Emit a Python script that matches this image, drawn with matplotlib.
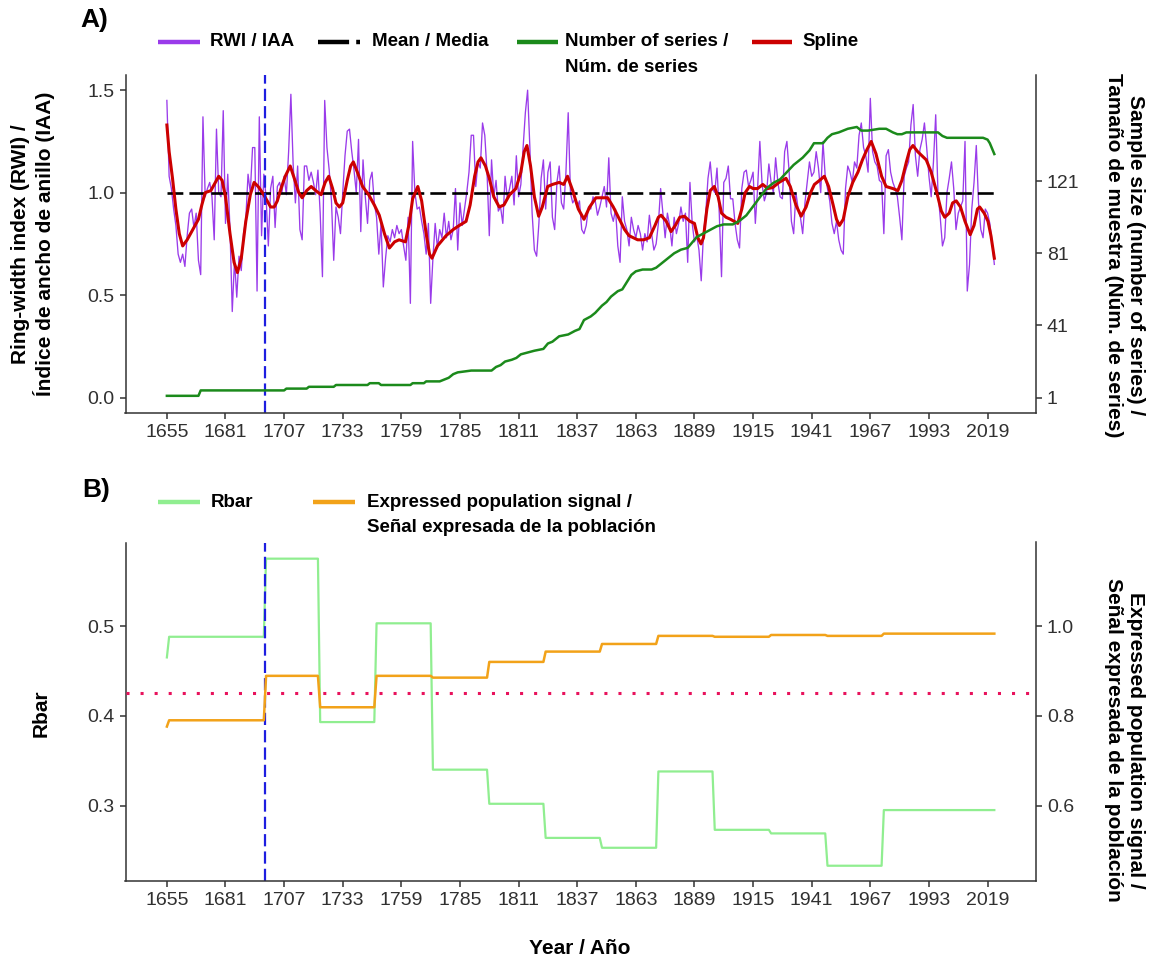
import matplotlib
matplotlib.use("Agg")
import matplotlib.pyplot as plt
from matplotlib.lines import Line2D

plt.rcParams['font.family'] = ['Liberation Sans', 'DejaVu Sans']

# ─── DATOS PANEL A ────────────────────────────────────────────
anio_inicio = 1655
rwi = [
    1.45, 1.08, 1.02, 0.92, 0.84, 0.70, 0.66, 0.70, 0.64, 0.79,
    0.90, 0.92, 0.83, 0.90, 0.67, 0.60, 1.37, 0.98, 1.02, 1.05,
    0.98, 0.77, 1.31, 1.00, 0.98, 1.40, 0.85, 1.09, 0.82, 0.42,
    0.67, 0.49, 0.69, 0.62, 0.80, 0.87, 1.09, 1.00, 1.22, 1.22,
    0.52, 1.37, 0.79, 1.09, 0.98, 0.74, 1.02, 1.08, 0.83, 1.03,
    1.05, 1.00, 1.08, 0.99, 1.20, 1.48, 1.14, 0.95, 1.13, 0.82,
    0.77, 1.13, 1.13, 1.06, 1.10, 1.05, 0.99, 1.11, 0.90, 0.59,
    1.45, 1.22, 1.11, 0.96, 0.67, 0.93, 0.88, 0.80, 1.00, 1.18,
    1.30, 1.31, 1.20, 1.11, 1.00, 1.26, 0.81, 1.16, 0.98, 0.85,
    1.06, 1.10, 0.95, 0.88, 0.70, 0.85, 0.54, 0.68, 0.79, 0.76,
    0.82, 0.78, 0.84, 0.80, 0.82, 0.74, 0.67, 0.88, 0.46, 1.25,
    1.00, 0.92, 0.93, 0.86, 0.80, 0.70, 0.85, 0.46, 0.68, 0.85,
    0.73, 0.82, 0.78, 0.90, 0.78, 0.86, 0.77, 0.82, 1.02, 0.72,
    0.95, 0.84, 0.92, 1.00, 1.10, 1.28, 1.28, 1.03, 1.15, 1.12,
    1.34, 1.28, 1.10, 0.79, 1.16, 0.98, 1.06, 0.91, 0.93, 0.85,
    1.08, 0.97, 1.02, 1.08, 0.94, 1.18, 0.98, 1.04, 1.22, 1.39,
    1.50, 1.22, 0.90, 0.72, 0.69, 0.85, 1.07, 1.16, 0.92, 1.10,
    1.15, 0.88, 0.82, 1.05, 1.13, 0.95, 0.92, 1.10, 1.39, 1.00,
    0.95, 0.97, 0.93, 0.96, 0.82, 0.80, 0.84, 0.93, 0.92, 0.98,
    0.96, 0.89, 0.93, 0.98, 1.03, 0.93, 1.17, 0.90, 0.86, 0.92,
    0.74, 0.66, 0.98, 0.86, 0.82, 0.74, 0.88, 0.82, 0.78, 0.84,
    0.80, 0.72, 0.80, 0.76, 0.89, 0.80, 0.72, 0.75, 0.85, 1.02,
    0.90, 0.78, 0.90, 0.84, 0.74, 0.88, 0.80, 0.85, 0.93, 0.86,
    0.90, 0.66, 1.05, 0.85, 0.76, 0.79, 0.72, 0.57, 0.80, 0.90,
    1.07, 1.15, 1.02, 1.00, 1.12, 0.90, 0.59, 1.05, 1.07, 1.13,
    0.97, 0.97, 0.85, 0.77, 0.73, 1.02, 1.10, 1.11, 1.03, 1.06,
    1.10, 0.85, 1.02, 1.25, 1.04, 0.96, 1.00, 1.14, 1.05, 1.00,
    1.17, 1.05, 0.98, 0.97, 1.20, 1.25, 1.10, 0.86, 0.80, 1.00,
    0.92, 0.88, 0.80, 0.95, 1.05, 1.15, 1.08, 1.10, 1.20, 1.12,
    1.00, 1.25, 1.08, 1.02, 0.96, 0.85, 0.80, 0.86, 0.77, 0.72,
    0.70, 1.02, 1.13, 1.10, 1.05, 1.15, 1.12, 1.28, 1.34, 1.22,
    1.18, 1.10, 1.46, 1.20, 1.15, 1.13, 1.06, 1.05, 0.80, 1.18,
    1.21, 1.10, 1.05, 1.02, 0.98, 0.88, 0.77, 1.08, 1.12, 1.15,
    1.33, 1.43, 1.18, 1.08, 1.21, 1.26, 1.34, 1.22, 1.08, 0.98,
    1.15, 1.38, 1.00, 0.88, 0.74, 0.78, 1.00, 1.07, 1.15, 1.02,
    0.82, 0.90, 0.93, 0.96, 1.25, 0.52, 0.65, 0.92, 1.05, 1.23,
    0.95, 0.82, 0.78, 0.92, 0.90, 0.85, 0.76, 0.65,
]
anios = list(range(anio_inicio, anio_inicio + len(rwi)))
media = 1.0

spline_anios = [
    1655, 1656, 1657.5, 1659, 1660.5, 1662, 1664, 1666.5, 1669, 1670.5,
    1672, 1674.5, 1676.5, 1678, 1679.5, 1681, 1683, 1684.8, 1686.3, 1688,
    1690, 1692, 1693.7, 1695.5, 1697.4, 1699.5, 1701, 1702.6, 1704, 1705.6,
    1707.5, 1709.7, 1711.5, 1713.5, 1715, 1717, 1719, 1721, 1723.4, 1725.2,
    1726.8, 1728.5, 1730, 1731.5, 1733, 1735, 1736.5, 1737.7, 1739.5, 1741.8,
    1744.5, 1747, 1749.2, 1751.5, 1753.7, 1756, 1758, 1760.8, 1762.5, 1764,
    1766.3, 1768, 1770, 1771.5, 1772.6, 1775, 1778.8, 1782, 1784.7, 1787.7,
    1789.5, 1791.5, 1793, 1794.3, 1796.3, 1798, 1800, 1802.4, 1804.5, 1807,
    1809.8, 1812, 1813.5, 1814.7, 1816.3, 1818, 1819.9, 1821.5, 1823.9, 1826,
    1829, 1831, 1832.7, 1835, 1837.5, 1840, 1842.5, 1845.3, 1848, 1850.5,
    1853, 1855.7, 1858, 1860, 1863.8, 1866.5, 1869, 1871.5, 1873, 1874.2,
    1876.5, 1878.6, 1880.5, 1882.5, 1884.5, 1887, 1889, 1890.5, 1891.9, 1893,
    1894.5, 1896, 1897.8, 1899.5, 1901, 1903, 1905, 1908.2, 1910, 1911.5,
    1913.4, 1915, 1917, 1919.3, 1921.5, 1923.7, 1926.5, 1929.6, 1931.5, 1934,
    1936.3, 1938.5, 1940.5, 1942.2, 1944.5, 1946.6, 1948.5, 1950.5, 1952, 1953.3,
    1955, 1957, 1959.2, 1961.5, 1963.5, 1965.5, 1967.4, 1969.5, 1972, 1974,
    1977, 1979.2, 1981, 1983, 1984.5, 1985.9, 1988, 1991.8, 1994, 1996.5,
    1998.5, 2000, 2002, 2003.5, 2005.1, 2007, 2009, 2011.3, 2013, 2014.5,
    2015.5, 2017.5, 2019.2, 2020.5, 2022,
]
spline_vals = [
    1.33, 1.20, 1.07, 0.92, 0.80, 0.74, 0.77, 0.82, 0.87, 0.94,
    1.00, 1.01, 1.05, 1.08, 1.06, 0.98, 0.80, 0.66, 0.61, 0.68,
    0.86, 0.99, 1.05, 1.03, 1.00, 0.96, 0.93, 0.93, 0.96, 1.02,
    1.08, 1.13, 1.07, 1.00, 0.975, 1.01, 1.03, 1.01, 0.99, 1.05,
    1.08, 1.02, 0.95, 0.93, 0.95, 1.06, 1.13, 1.15, 1.10, 1.03,
    0.99, 0.94, 0.89, 0.80, 0.73, 0.76, 0.77, 0.76, 0.85, 0.97,
    1.03, 0.96, 0.80, 0.70, 0.68, 0.74, 0.79, 0.82, 0.84, 0.86,
    0.94, 1.08, 1.15, 1.17, 1.13, 1.07, 0.98, 0.93, 0.94, 0.99,
    1.02, 1.10, 1.20, 1.23, 1.13, 0.98, 0.885, 0.93, 1.03, 1.04,
    1.05, 1.04, 1.08, 1.01, 0.92, 0.87, 0.93, 0.975, 0.975, 0.975,
    0.93, 0.87, 0.82, 0.79, 0.77, 0.77, 0.78, 0.84, 0.88, 0.89,
    0.86, 0.81, 0.84, 0.88, 0.885, 0.86, 0.85, 0.78, 0.75, 0.78,
    0.92, 1.01, 1.03, 0.98, 0.90, 0.88, 0.87, 0.85, 0.92, 1.00,
    1.03, 1.02, 1.02, 1.04, 1.02, 1.025, 1.05, 1.07, 1.03, 0.94,
    0.885, 0.93, 1.00, 1.04, 1.06, 1.08, 1.03, 0.94, 0.87, 0.84,
    0.87, 0.98, 1.05, 1.10, 1.16, 1.21, 1.25, 1.19, 1.08, 1.03,
    1.02, 1.01, 1.06, 1.15, 1.21, 1.23, 1.20, 1.16, 1.10, 1.00,
    0.91, 0.88, 0.90, 0.95, 0.96, 0.93, 0.86, 0.795, 0.84, 0.92,
    0.93, 0.90, 0.86, 0.79, 0.68,
]

n_anios = [
    1655, 1669, 1670, 1707, 1708, 1717, 1718, 1729, 1730, 1744,
    1745, 1749, 1750, 1763, 1764, 1769, 1770, 1776, 1778, 1780,
    1782, 1784, 1790, 1799, 1801, 1803, 1805, 1808, 1810, 1812,
    1815, 1818, 1822, 1824, 1826, 1829, 1833, 1836, 1838, 1840,
    1843, 1845, 1848, 1850, 1852, 1855, 1857, 1859, 1861, 1863,
    1866, 1870, 1872, 1874, 1877, 1880, 1883, 1886, 1888, 1890,
    1893, 1896, 1899, 1902, 1906, 1909, 1912, 1915, 1918, 1921,
    1924, 1927, 1930, 1933, 1937, 1940, 1942, 1946, 1948, 1950,
    1953, 1957, 1961, 1963, 1966, 1971, 1974, 1977, 1979, 1981,
    1983, 1997, 1999, 2001, 2017, 2019, 2020, 2021, 2022,
]
n_series = [
    2, 2, 5, 5, 6, 6, 7, 7, 8, 8,
    9, 9, 8, 8, 9, 9, 10, 10, 11, 12,
    14, 15, 16, 16, 18, 19, 21, 22, 23, 25,
    26, 27, 28, 31, 32, 35, 36, 38, 39, 44,
    46, 48, 52, 54, 57, 60, 61, 65, 69, 71,
    72, 72, 73, 75, 78, 81, 83, 84, 87, 90,
    92, 94, 96, 97, 97, 99, 102, 107, 112, 117,
    120, 122, 126, 130, 134, 138, 142, 142, 145, 147,
    148, 150, 151, 149, 149, 150, 150, 148, 147, 147,
    148, 148, 146, 145, 145, 144, 142, 139, 136,
]

# ─── DATOS PANEL B (ventanas moviles) ─────────────────────────
ventana_inicio = [1655, 1656, 1699, 1723, 1748, 1773, 1798, 1823, 1848, 1873, 1898, 1923, 1948, 1973]
ventana_fin    = [1655, 1698, 1722, 1747, 1772, 1797, 1822, 1847, 1872, 1897, 1922, 1947, 1972, 2022]
rbar = [0.465, 0.488, 0.575, 0.393, 0.503, 0.340, 0.302, 0.264, 0.253, 0.338, 0.273, 0.269, 0.233, 0.295]
eps  = [0.776, 0.790, 0.889, 0.819, 0.889, 0.885, 0.920, 0.943, 0.960, 0.978, 0.976, 0.980, 0.978, 0.983]
eps_umbral = 0.85
anio_eps = 1698.5

x_ticks = [1655, 1681, 1707, 1733, 1759, 1785, 1811, 1837, 1863, 1889, 1915, 1941, 1967, 1993, 2019]
rwi_ticks = [0.0, 0.5, 1.0, 1.5]
n_ticks = [1, 41, 81, 121]
rbar_ticks = [0.3, 0.4, 0.5]
eps_ticks = [0.6, 0.8, 1.0]

# ─── ESTILO ───────────────────────────────────────────────────
W, H = 1150, 963
X_LIM = (1636.65, 2040.35)
EJE = "#333333"
TXT = "#303030"
C_RWI = "#9A3BEA"
C_SPL = "#CC0000"
C_N = "#1B8A1B"
C_RBAR = "#90EE90"
C_EPS = "#F2A219"
C_VLINE = "#1E1EE0"
C_UMB = "#E8125C"


def fx(px):
    return px / W


def fy(py):
    return 1 - py / H


def estilo(ax, ax2):
    for a in (ax, ax2):
        a.set_facecolor("none")
        a.spines["top"].set_visible(False)
        for s in a.spines.values():
            s.set_color(EJE)
            s.set_linewidth(1.1)
        a.tick_params(colors=EJE, labelcolor=TXT, labelsize=14, length=4, width=1.1, pad=4)
    ax.spines["right"].set_visible(False)
    ax2.spines["left"].set_visible(False)
    ax2.spines["bottom"].set_visible(False)
    ax.set_xlim(*X_LIM)
    ax.set_xticks(x_ticks)


def clave(x0, x1, y, **kw):
    fig.add_artist(Line2D([fx(x0), fx(x1)], [fy(y), fy(y)], transform=fig.transFigure,
                          solid_capstyle="butt", dash_capstyle="butt", **kw))


def texto(x, y, s, **kw):
    kw.setdefault("fontsize", 13.5)
    kw.setdefault("fontweight", "bold")
    kw.setdefault("color", "black")
    fig.text(fx(x), fy(y), s, **kw)


fig = plt.figure(figsize=(W / 100, H / 100), dpi=100)
fig.patch.set_facecolor("white")

# ─── PANEL A ──────────────────────────────────────────────────
axA = fig.add_axes([fx(125.5), fy(413), (1035.7 - 125.5) / W, 338.2 / H])
axA2 = axA.twinx()
estilo(axA, axA2)

axA.plot(anios, rwi, color=C_RWI, lw=0.95)
axA.plot([anios[0], anios[-1]], [media, media], color="black", lw=1.9,
         linestyle=(0, (6, 2.3)))
axA.plot(spline_anios, spline_vals, color=C_SPL, lw=2.2, solid_joinstyle="round")
axA.axvline(anio_eps, color=C_VLINE, lw=1.6, linestyle=(0, (5.5, 2.3)))
axA2.plot(n_anios, n_series, color=C_N, lw=1.8)

axA.set_ylim(-0.075, 1.575)
axA.set_yticks(rwi_ticks)
axA.set_yticklabels([f"{v:.1f}" for v in rwi_ticks])
axA2.set_ylim(1 + 113.6 * -0.075, 1 + 113.6 * 1.575)
axA2.set_yticks(n_ticks)

# ─── PANEL B ──────────────────────────────────────────────────
axB = fig.add_axes([fx(125.5), fy(881), (1035.7 - 125.5) / W, 338.5 / H])
axB2 = axB.twinx()
estilo(axB, axB2)

rb_x, rb_y, ep_x, ep_y = [], [], [], []
for ini, fin, r, e in zip(ventana_inicio, ventana_fin, rbar, eps):
    rb_x += [ini, fin]
    rb_y += [r, r]
    ep_x += [ini, fin]
    ep_y += [e, e]
axB.plot(rb_x, rb_y, color=C_RBAR, lw=1.6)
axB2.plot(ep_x, ep_y, color=C_EPS, lw=1.8)
axB2.axhline(eps_umbral, color=C_UMB, lw=2.2, linestyle=(0, (1, 3.6)))
axB.axvline(anio_eps, color=C_VLINE, lw=1.6, linestyle=(0, (5.5, 2.3)))

axB.set_ylim(0.216, 0.593)
axB.set_yticks(rbar_ticks)
axB.set_yticklabels([f"{v:.1f}" for v in rbar_ticks])
axB2.set_ylim(2 * 0.216, 2 * 0.593)
axB2.set_yticks(eps_ticks)
axB2.set_yticklabels([f"{v:.1f}" for v in eps_ticks])

# ─── TITULOS Y LEYENDAS ───────────────────────────────────────
texto(80, 20, "A)", fontsize=19, va="center")
texto(82, 490, "B)", fontsize=19, va="center")

clave(158, 200, 42, color=C_RWI, lw=3.2)
texto(210, 42, "RWI / IAA", va="center")
clave(318, 360, 42, color="black", lw=3.2, linestyle=(0, (7, 1.6)))
texto(372, 42, "Mean / Media", va="center")
clave(517, 558, 42, color=C_N, lw=3.2)
texto(565, 42, "Number of series /", va="center")
texto(565, 67, "Núm. de series", va="center")
clave(752, 792, 42, color=C_SPL, lw=3.2)
texto(802, 42, "Spline", va="center")

clave(158, 200, 502, color=C_RBAR, lw=3.2)
texto(211, 502, "Rbar", va="center")
clave(313, 355, 502, color=C_EPS, lw=3.2)
texto(367, 502, "Expressed population signal /", va="center")
texto(367, 527, "Señal expresada de la población", va="center")

texto(33, 244, "Ring-width index (RWI) /\nÍndice de ancho de anillo (IAA)",
      fontsize=15, rotation=90, ha="center", va="center", multialignment="center")
texto(1124, 255, "Sample size (number of series) /\nTamaño de muestra (Núm. de series)",
      fontsize=15, rotation=270, ha="center", va="center", multialignment="center")
texto(41, 713, "Rbar", fontsize=15, rotation=90, ha="center", va="center")
texto(1124, 740, "Expressed population signal /\nSeñal expresada de la población",
      fontsize=15, rotation=270, ha="center", va="center", multialignment="center")
texto(580, 948, "Year / Año", fontsize=15, ha="center", va="center")

fig.savefig("out.png", dpi=100, facecolor="white")
